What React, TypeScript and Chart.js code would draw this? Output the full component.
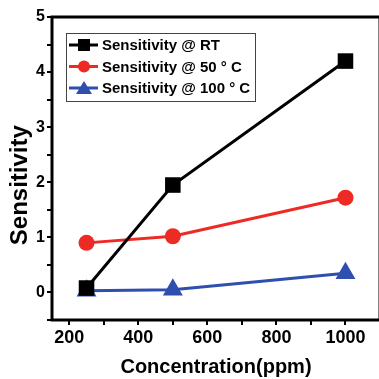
import React, { useEffect, useRef } from "react";
import { Chart, registerables } from "chart.js";

Chart.register(...registerables);

const concentrations = [250, 500, 1000];
const sensRT = [0.08, 1.95, 4.2];
const sens50 = [0.9, 1.02, 1.72];
const sens100 = [0.03, 0.05, 0.35];
const seriesLabels = ["Sensitivity @ RT", "Sensitivity @ 50 ° C", "Sensitivity @ 100 ° C"];
const xTickLabels = [200, 400, 600, 800, 1000];
const yTickLabels = [0, 1, 2, 3, 4, 5];

const FONT = "'Liberation Sans', Arial, sans-serif";
const BLACK = "#000000";
const RED = "#ee2a24";
const BLUE = "#2f4fae";

const frame = {
  id: "frame",
  afterDatasetsDraw(chart: any) {
    const { ctx, chartArea: a } = chart;
    ctx.save();
    ctx.strokeStyle = "#000";
    ctx.lineWidth = 3;
    ctx.strokeRect(a.left, a.top, a.right - a.left, a.bottom - a.top);
    ctx.restore();
  },
};

const legendBox = {
  id: "legendBox",
  afterDraw(chart: any) {
    const { ctx } = chart;
    const x0 = 66, y0 = 33, w = 189, h = 68;
    ctx.save();
    ctx.fillStyle = "#fff";
    ctx.fillRect(x0, y0, w, h);
    ctx.strokeStyle = "#444";
    ctx.lineWidth = 1;
    ctx.strokeRect(x0 + 0.5, y0 + 0.5, w, h);
    chart.data.datasets.forEach((ds: any, i: number) => {
      const cy = y0 + 12 + i * 21.5;
      ctx.strokeStyle = ds.borderColor;
      ctx.fillStyle = ds.backgroundColor;
      ctx.lineWidth = 3;
      ctx.beginPath();
      ctx.moveTo(x0 + 3, cy);
      ctx.lineTo(x0 + 32, cy);
      ctx.stroke();
      const cx = x0 + 18;
      ctx.beginPath();
      if (ds.pointStyle === "rect") {
        ctx.fillRect(cx - 6, cy - 6, 12, 12);
      } else if (ds.pointStyle === "circle") {
        ctx.arc(cx, cy, 6, 0, Math.PI * 2);
        ctx.fill();
      } else {
        ctx.moveTo(cx, cy - 7);
        ctx.lineTo(cx + 8, cy + 6);
        ctx.lineTo(cx - 8, cy + 6);
        ctx.closePath();
        ctx.fill();
      }
      ctx.fillStyle = "#000";
      ctx.font = `bold 15px ${FONT}`;
      ctx.textBaseline = "middle";
      ctx.fillText(ds.label, x0 + 36, cy + 1);
    });
    ctx.restore();
  },
};

export default function App() {
  const ref = useRef<HTMLCanvasElement>(null);
  useEffect(() => {
    const toPts = (ys: number[]) => concentrations.map((x, i) => ({ x, y: ys[i] }));
    const chart = new Chart(ref.current!, {
      type: "line",
      data: {
        datasets: [
          {
            label: seriesLabels[0], data: toPts(sensRT), borderColor: BLACK, backgroundColor: BLACK,
            borderWidth: 3, pointStyle: "rect", pointRadius: 11, pointBorderWidth: 0,
          },
          {
            label: seriesLabels[1], data: toPts(sens50), borderColor: RED, backgroundColor: RED,
            borderWidth: 3, pointStyle: "circle", pointRadius: 8, pointBorderWidth: 0,
          },
          {
            label: seriesLabels[2], data: toPts(sens100), borderColor: BLUE, backgroundColor: BLUE,
            borderWidth: 3, pointStyle: "triangle", pointRadius: 11.5, pointBorderWidth: 0,
          },
        ],
      },
      options: {
        animation: false,
        responsive: false,
        layout: { padding: { top: 17, right: 20, left: 0, bottom: 0 } },
        plugins: { legend: { display: false }, tooltip: { enabled: false } },
        scales: {
          x: {
            type: "linear",
            min: 150,
            max: 1100,
            afterBuildTicks: (s: any) => {
              s.ticks = [];
              for (let v = 200; v <= 1100; v += 100) s.ticks.push({ value: v });
            },
            afterFit: (s: any) => { s.height = 59; },
            grid: { drawOnChartArea: false, drawTicks: true, tickLength: 5, color: "#000", lineWidth: 2 },
            border: { display: false },
            ticks: {
              color: "#000",
              padding: 2,
              maxRotation: 0,
              autoSkip: false,
              font: { family: FONT, size: 18, weight: "bold" },
              callback: (v: any) => (xTickLabels.includes(v) ? String(v) : ""),
            },
            title: {
              display: true, text: "Concentration(ppm)", color: "#000",
              font: { family: FONT, size: 20, weight: "bold" }, padding: { top: 0, bottom: 0 },
            },
          },
          y: {
            min: -0.5,
            max: 5,
            afterBuildTicks: (s: any) => {
              s.ticks = [];
              for (let v = -0.5; v <= 5.001; v += 0.5) s.ticks.push({ value: Math.round(v * 10) / 10 });
            },
            afterFit: (s: any) => { s.width = 52; },
            grid: { drawOnChartArea: false, drawTicks: true, tickLength: 5, color: "#000", lineWidth: 2 },
            border: { display: false },
            ticks: {
              color: "#000",
              padding: 2,
              autoSkip: false,
              font: { family: FONT, size: 16, weight: "bold" },
              callback: (v: any) => (yTickLabels.includes(v) ? String(v) : ""),
            },
            title: {
              display: true, text: "Sensitivity     ", color: "#000",
              font: { family: FONT, size: 24, weight: "bold" }, padding: { top: 6, bottom: 0 },
            },
          },
        },
      },
      plugins: [frame, legendBox],
    });
    return () => chart.destroy();
  }, []);
  return (
    <div style={{ position: "fixed", left: 0, top: 0, width: 379, height: 379, overflow: "hidden", background: "#fff" }}>
      <canvas ref={ref} width={400} height={379} style={{ display: "block", width: 400, height: 379 }} />
    </div>
  );
}
